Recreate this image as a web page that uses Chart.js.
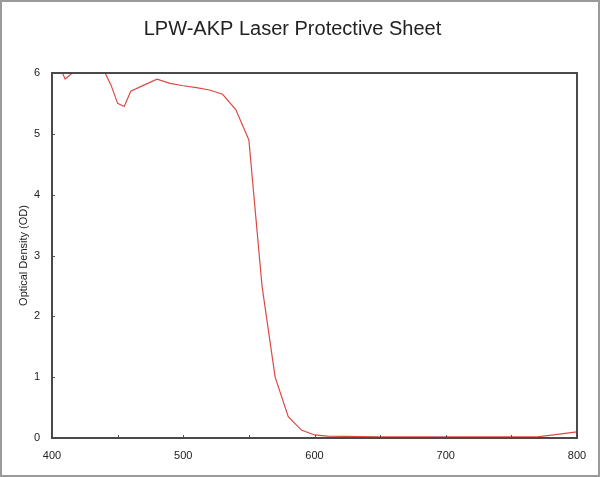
<!DOCTYPE html>
<html>
<head>
<meta charset="utf-8">
<script src="https://cdn.jsdelivr.net/npm/chart.js@4.4.0/dist/chart.umd.min.js"></script>
<style>
  html, body { margin: 0; padding: 0; background: #fff; }
  #wrap { width: 600px; height: 477px; }
</style>
</head>
<body>
<div id="wrap"><canvas id="odChart" width="600" height="477"></canvas></div>
<script>
  // wavelength (nm) and optical density
  const wavelengths = [400, 410, 420, 430, 440, 445, 450, 455, 460, 470, 480, 490, 500, 510, 520, 530, 540, 550, 560, 570, 580, 590, 600, 610, 650, 700, 770, 800];
  const odValues = [6.4, 5.9, 6.08, 6.3, 6.02, 5.8, 5.5, 5.45, 5.7, 5.8, 5.9, 5.83, 5.79, 5.76, 5.72, 5.65, 5.4, 4.9, 2.5, 1.0, 0.35, 0.13, 0.05, 0.03, 0.02, 0.02, 0.02, 0.1];
  const xTicks = [400, 500, 600, 700, 800];
  const yTicks = [0, 1, 2, 3, 4, 5, 6];

  // frame round the plot, inward tick marks and the outer border
  const framePlugin = {
    id: 'frame',
    afterDraw(chart) {
      const c = chart.ctx;
      const a = chart.chartArea;
      const xs = chart.scales.x, ys = chart.scales.y;
      c.save();
      c.strokeStyle = '#555';
      c.lineWidth = 1;
      for (let v = 450; v < 800; v += 50) {
        const px = Math.round(xs.getPixelForValue(v)) + 0.5;
        c.beginPath(); c.moveTo(px, a.bottom); c.lineTo(px, a.bottom - 3); c.stroke();
      }
      yTicks.forEach(v => {
        const py = Math.round(ys.getPixelForValue(v)) + 0.5;
        c.beginPath(); c.moveTo(a.left, py); c.lineTo(a.left + 3, py); c.stroke();
      });
      c.lineWidth = 2;
      c.strokeStyle = '#4a4a4a';
      c.strokeRect(a.left, a.top, a.right - a.left, a.bottom - a.top);
      c.lineWidth = 2;
      c.strokeStyle = '#9a9a9a';
      c.strokeRect(1, 1, chart.width - 2, chart.height - 2);
      c.restore();
    }
  };

  const ctx = document.getElementById('odChart').getContext('2d');
  const odChart = new Chart(ctx, {
    type: 'line',
    data: {
      datasets: [{
        data: wavelengths.map((w, i) => ({ x: w, y: odValues[i] })),
        borderColor: '#dc4a45',
        borderWidth: 1.2,
        pointRadius: 0,
        tension: 0,
        fill: false
      }]
    },
    options: {
      responsive: false,
      animation: false,
      layout: { padding: { left: 8, right: 23, top: 0, bottom: 8 } },
      plugins: {
        legend: { display: false },
        tooltip: { enabled: false },
        title: {
          display: true,
          text: 'LPW-AKP Laser Protective Sheet',
          color: '#222',
          font: { family: 'Liberation Sans, Arial, sans-serif', size: 20, weight: 'normal' },
          padding: { top: 17, bottom: 32 }
        }
      },
      scales: {
        x: {
          type: 'linear',
          min: 400,
          max: 800,
          grid: { display: false, drawTicks: false },
          border: { display: false },
          afterBuildTicks: s => { s.ticks = xTicks.map(v => ({ value: v })); },
          ticks: {
            color: '#222',
            padding: 11,
            maxRotation: 0,
            font: { family: 'Liberation Sans, Arial, sans-serif', size: 11 }
          },
          afterFit: s => { s.height = 31; }
        },
        y: {
          min: 0,
          max: 6,
          grid: { display: false, drawTicks: false },
          border: { display: false },
          afterBuildTicks: s => { s.ticks = yTicks.map(v => ({ value: v })); },
          ticks: {
            color: '#222',
            padding: 12,
            font: { family: 'Liberation Sans, Arial, sans-serif', size: 11 }
          },
          title: {
            display: true,
            text: 'Optical Density (OD)',
            color: '#222',
            padding: { top: 9, bottom: 0 },
            font: { family: 'Liberation Sans, Arial, sans-serif', size: 11 }
          },
          afterFit: s => { s.width = 44; }
        }
      }
    },
    plugins: [framePlugin]
  });
</script>
</body>
</html>
